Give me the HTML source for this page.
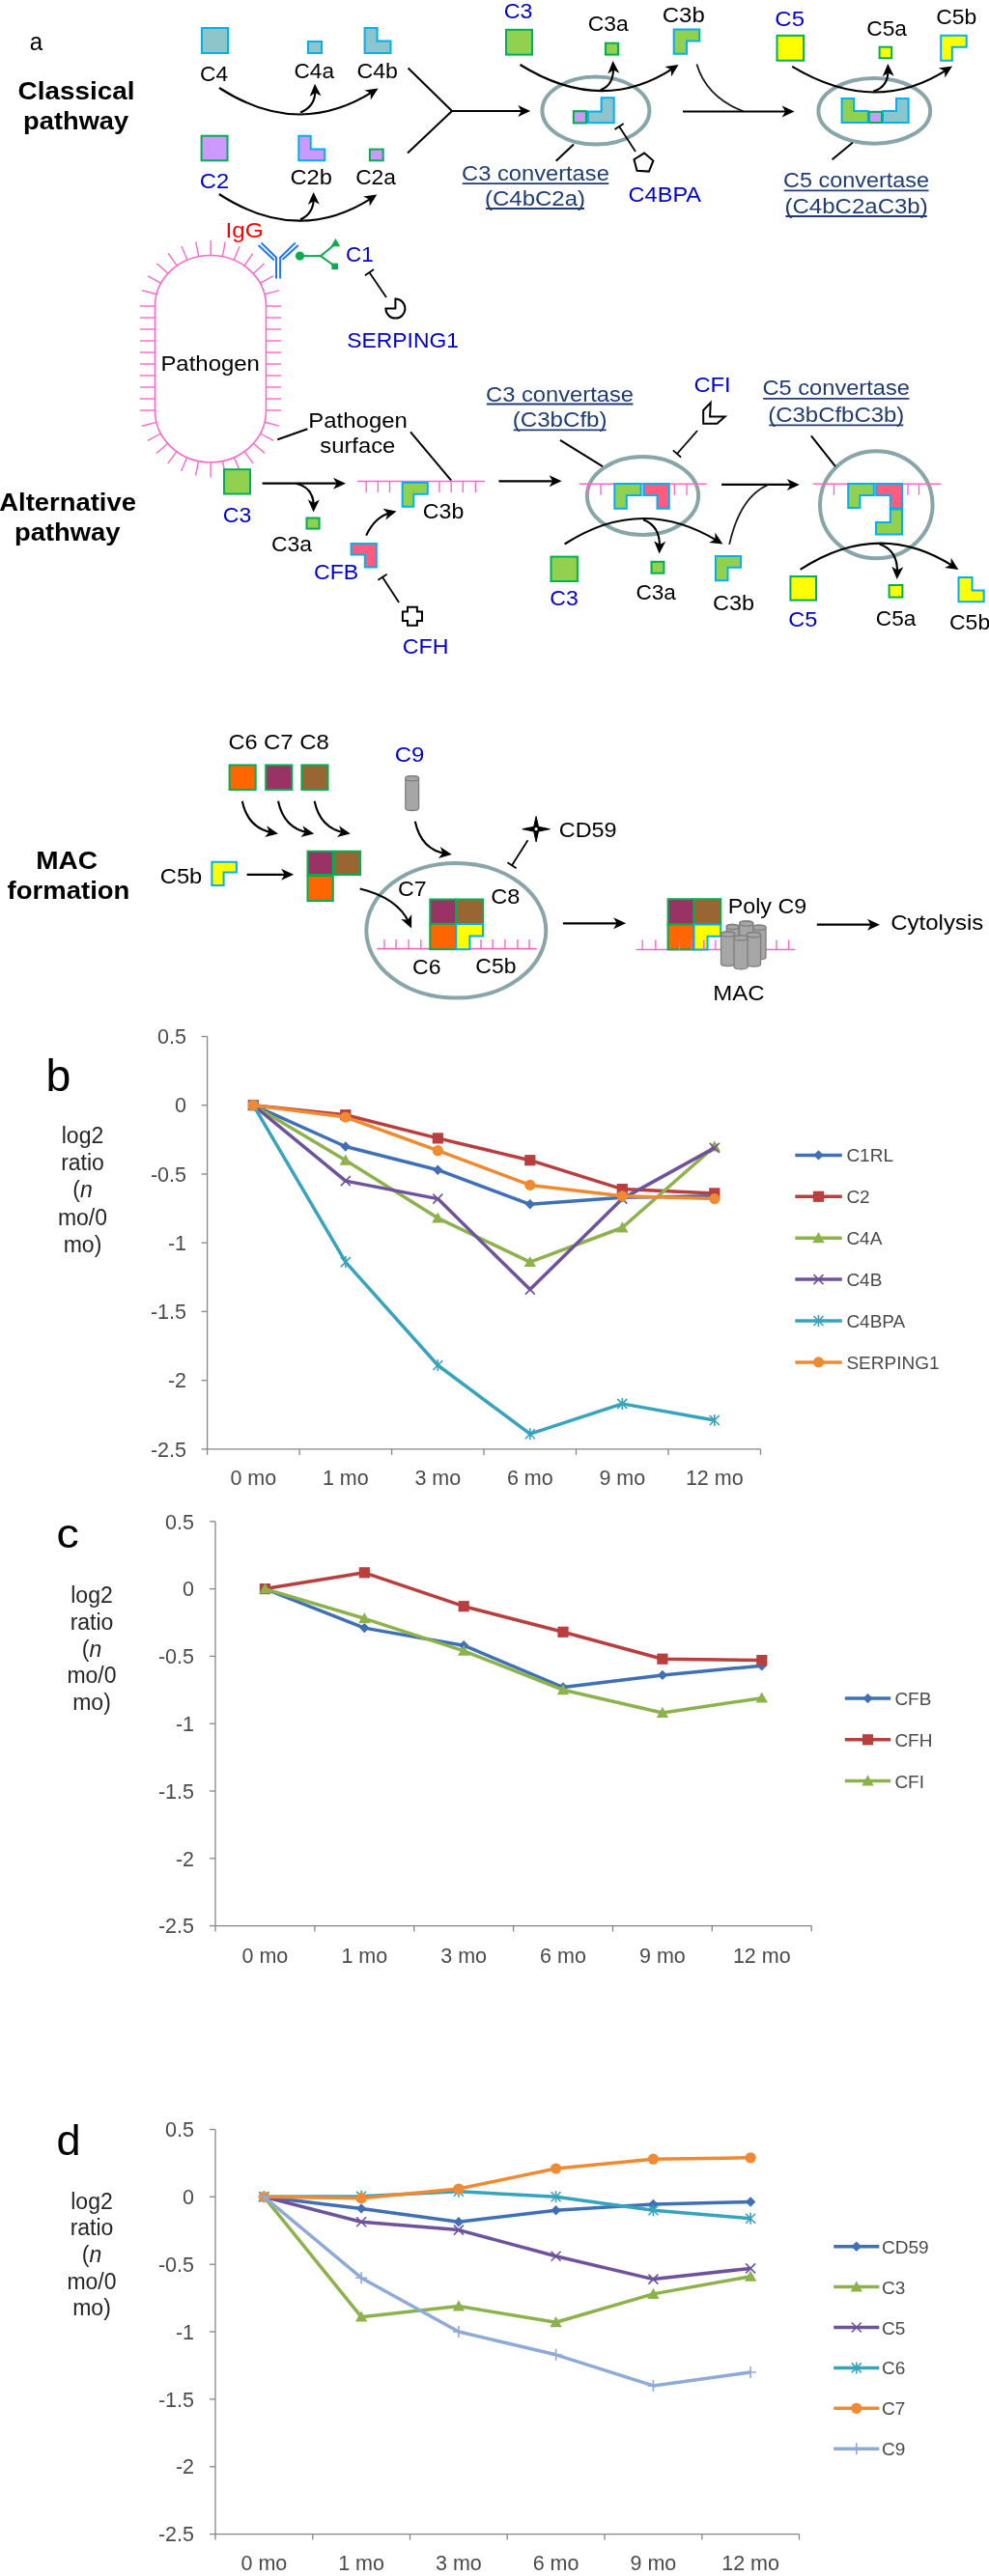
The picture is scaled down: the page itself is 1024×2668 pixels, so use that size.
<!DOCTYPE html>
<html><head><meta charset="utf-8"><style>
html,body{margin:0;padding:0;background:#fff;width:1024px;height:2668px;}
svg{display:block;font-family:"Liberation Sans", sans-serif;filter:blur(0.45px);}
</style></head><body>
<svg width="1024" height="2668" viewBox="0 0 1024 2668">
<rect width="1024" height="2668" fill="#fff"/>
<text x="30.78" y="51.5" font-size="25" fill="#000" textLength="13.39" lengthAdjust="spacingAndGlyphs">a</text>
<text x="18.59" y="103.3" font-size="25" fill="#000" font-weight="bold" textLength="120.84" lengthAdjust="spacingAndGlyphs">Classical</text>
<text x="24.13" y="134.0" font-size="25" fill="#000" font-weight="bold" textLength="109.04" lengthAdjust="spacingAndGlyphs">pathway</text>
<rect x="209.0" y="29.0" width="27.0" height="26.0" fill="#8dc5cc" stroke="#00b0f0" stroke-width="2"/>
<rect x="319.0" y="43.0" width="14.0" height="12.0" fill="#8dc5cc" stroke="#00b0f0" stroke-width="2"/>
<path d="M377.6,29.0 L390.6,29.0 L390.6,42.5 L404.5,42.5 L404.5,55.0 L377.6,55.0 Z" fill="#8dc5cc" stroke="#00b0f0" stroke-width="2" stroke-linejoin="miter"/>
<text x="207.06" y="84.0" font-size="22" fill="#000" textLength="29.08" lengthAdjust="spacingAndGlyphs">C4</text>
<text x="304.57" y="80.5" font-size="22" fill="#000" textLength="41.42" lengthAdjust="spacingAndGlyphs">C4a</text>
<text x="369.44" y="80.5" font-size="22" fill="#000" textLength="42.53" lengthAdjust="spacingAndGlyphs">C4b</text>
<path d="M227.0,91.0 Q309.0,144.0 386.5,94.7" stroke="#000" stroke-width="2.1" fill="none"/>
<path d="M391.6,91.5 L383.8,103.5 L383.7,96.5 L377.4,93.4 Z" fill="#000"/>
<path d="M311.0,116.5 Q327.0,110.0 326.3,92.7" stroke="#000" stroke-width="2.1" fill="none"/>
<path d="M326.0,86.7 L332.6,99.4 L326.4,96.1 L320.6,99.9 Z" fill="#000"/>
<rect x="208.6" y="140.7" width="26.9" height="25.6" fill="#cc99ff" stroke="#00b050" stroke-width="2"/>
<path d="M309.3,140.7 L321.7,140.7 L321.7,154.4 L336.2,154.4 L336.2,166.3 L309.3,166.3 Z" fill="#cc99ff" stroke="#00b0f0" stroke-width="2" stroke-linejoin="miter"/>
<rect x="382.9" y="154.6" width="13.8" height="11.7" fill="#cc99ff" stroke="#00b050" stroke-width="2"/>
<text x="206.81" y="195.0" font-size="22" fill="#0000cc" textLength="30.40" lengthAdjust="spacingAndGlyphs">C2</text>
<text x="300.51" y="191.0" font-size="22" fill="#000" textLength="43.48" lengthAdjust="spacingAndGlyphs">C2b</text>
<text x="368.16" y="191.0" font-size="22" fill="#000" textLength="41.83" lengthAdjust="spacingAndGlyphs">C2a</text>
<path d="M226.8,201.0 Q308.8,254.4 385.3,204.8" stroke="#000" stroke-width="2.1" fill="none"/>
<path d="M390.3,201.5 L382.7,213.6 L382.4,206.6 L376.1,203.5 Z" fill="#000"/>
<path d="M311.0,227.3 Q325.0,221.0 324.7,204.9" stroke="#000" stroke-width="2.1" fill="none"/>
<path d="M324.6,198.9 L330.8,211.8 L324.8,208.3 L318.8,212.0 Z" fill="#000"/>
<line x1="422.6" y1="70.5" x2="468.0" y2="115.0" stroke="#000" stroke-width="2"/>
<line x1="422.0" y1="158.6" x2="468.0" y2="115.0" stroke="#000" stroke-width="2"/>
<line x1="467.0" y1="115.0" x2="543.2" y2="115.0" stroke="#000" stroke-width="2.2"/>
<path d="M549.2,115.0 L536.2,121.0 L539.8,115.0 L536.2,109.0 Z" fill="#000"/>
<ellipse cx="616.9" cy="114.6" rx="55.5" ry="35.0" fill="none" stroke="#88a6a9" stroke-width="4"/>
<rect x="593.9" y="115.3" width="13.0" height="12.0" fill="#cc99ff" stroke="#00b050" stroke-width="2"/>
<path d="M622.6,101.3 L635.7,101.3 L635.7,127.3 L608.9,127.3 L608.9,115.6 L622.6,115.6 Z" fill="#8dc5cc" stroke="#00b0f0" stroke-width="2" stroke-linejoin="miter"/>
<rect x="593.9" y="115.3" width="13.0" height="12.0" fill="#cc99ff" stroke="#00b050" stroke-width="2"/>
<rect x="524.0" y="30.8" width="27.0" height="25.8" fill="#92d050" stroke="#00b050" stroke-width="2"/>
<rect x="627.0" y="44.7" width="13.0" height="11.9" fill="#92d050" stroke="#00b050" stroke-width="2"/>
<path d="M697.7,30.6 L724.2,30.6 L724.2,42.5 L711.0,42.5 L711.0,55.7 L697.7,55.7 Z" fill="#92d050" stroke="#00b0f0" stroke-width="2" stroke-linejoin="miter"/>
<text x="521.84" y="19.4" font-size="22" fill="#0000cc" textLength="29.67" lengthAdjust="spacingAndGlyphs">C3</text>
<text x="608.86" y="32.4" font-size="22" fill="#000" textLength="41.93" lengthAdjust="spacingAndGlyphs">C3a</text>
<text x="685.80" y="22.6" font-size="22" fill="#000" textLength="43.90" lengthAdjust="spacingAndGlyphs">C3b</text>
<path d="M538.5,67.0 Q623.0,119.5 697.6,70.3" stroke="#000" stroke-width="2.1" fill="none"/>
<path d="M702.6,67.0 L695.1,79.2 L694.8,72.2 L688.4,69.1 Z" fill="#000"/>
<path d="M621.7,93.2 Q636.0,88.0 634.9,69.1" stroke="#000" stroke-width="2.1" fill="none"/>
<path d="M634.6,63.1 L641.3,75.7 L635.1,72.5 L629.3,76.4 Z" fill="#000"/>
<line x1="594.0" y1="149.5" x2="575.7" y2="166.7" stroke="#000" stroke-width="2"/>
<text x="478.12" y="186.8" font-size="22" fill="#203c74" textLength="152.70" lengthAdjust="spacingAndGlyphs">C3 convertase</text>
<line x1="478.8" y1="190.1" x2="630.3" y2="190.1" stroke="#203c74" stroke-width="1.8"/>
<text x="502.10" y="212.6" font-size="22" fill="#203c74" textLength="103.84" lengthAdjust="spacingAndGlyphs">(C4bC2a)</text>
<line x1="503.1" y1="216.0" x2="605.0" y2="216.0" stroke="#203c74" stroke-width="1.8"/>
<line x1="658.0" y1="156.9" x2="641.1" y2="131.1" stroke="#000" stroke-width="1.8"/>
<line x1="636.5" y1="134.1" x2="645.7" y2="128.1" stroke="#000" stroke-width="1.8"/>
<path d="M667.1,158.6 L676.4,166.5 L671.9,177.6 L659.5,176.8 L656.5,165.2 Z" fill="#fff" stroke="#000" stroke-width="2" stroke-linejoin="miter"/>
<text x="650.62" y="208.7" font-size="22" fill="#0000cc" textLength="75.44" lengthAdjust="spacingAndGlyphs">C4BPA</text>
<path d="M721.4,66.4 Q731.5,100.5 770,115.5" stroke="#1a1a1a" stroke-width="1.8" fill="none"/>
<line x1="707.0" y1="115.5" x2="816.6" y2="115.5" stroke="#000" stroke-width="2.2"/>
<path d="M822.6,115.5 L809.6,121.5 L813.2,115.5 L809.6,109.5 Z" fill="#000"/>
<ellipse cx="905.3" cy="114.9" rx="57.9" ry="33.8" fill="none" stroke="#88a6a9" stroke-width="4"/>
<path d="M871.6,101.9 L884.2,101.9 L884.2,115.0 L898.8,115.0 L898.8,127.0 L871.6,127.0 Z" fill="#92d050" stroke="#00b0f0" stroke-width="2" stroke-linejoin="miter"/>
<path d="M928.0,101.9 L940.6,101.9 L940.6,127.0 L914.0,127.0 L914.0,115.0 L928.0,115.0 Z" fill="#8dc5cc" stroke="#00b0f0" stroke-width="2" stroke-linejoin="miter"/>
<rect x="899.8" y="115.8" width="13.2" height="11.2" fill="#cc99ff" stroke="#00b050" stroke-width="2"/>
<rect x="804.5" y="36.8" width="27.5" height="25.9" fill="#ffff00" stroke="#00b050" stroke-width="2"/>
<rect x="910.6" y="48.7" width="12.6" height="11.5" fill="#ffff00" stroke="#00b050" stroke-width="2"/>
<path d="M974.2,36.8 L1000.7,36.8 L1000.7,48.7 L985.8,48.7 L985.8,62.7 L974.2,62.7 Z" fill="#ffff00" stroke="#00b0f0" stroke-width="2" stroke-linejoin="miter"/>
<text x="802.30" y="27.1" font-size="22" fill="#0000cc" textLength="30.68" lengthAdjust="spacingAndGlyphs">C5</text>
<text x="897.26" y="36.5" font-size="22" fill="#000" textLength="41.73" lengthAdjust="spacingAndGlyphs">C5a</text>
<text x="969.25" y="25.0" font-size="22" fill="#000" textLength="42.11" lengthAdjust="spacingAndGlyphs">C5b</text>
<path d="M820.2,68.9 Q906.0,120.5 981.0,71.8" stroke="#000" stroke-width="2.1" fill="none"/>
<path d="M986.0,68.5 L978.4,80.6 L978.1,73.6 L971.8,70.6 Z" fill="#000"/>
<path d="M904.3,94.6 Q920.0,90.0 919.5,72.0" stroke="#000" stroke-width="2.1" fill="none"/>
<path d="M919.3,66.0 L925.7,78.8 L919.6,75.4 L913.7,79.2 Z" fill="#000"/>
<line x1="882.8" y1="147.8" x2="861.6" y2="165.2" stroke="#000" stroke-width="2"/>
<text x="811.03" y="194.3" font-size="22" fill="#203c74" textLength="150.98" lengthAdjust="spacingAndGlyphs">C5 convertase</text>
<line x1="811.7" y1="197.4" x2="961.5" y2="197.4" stroke="#203c74" stroke-width="1.8"/>
<text x="812.50" y="221.0" font-size="22" fill="#203c74" textLength="148.23" lengthAdjust="spacingAndGlyphs">(C4bC2aC3b)</text>
<line x1="813.5" y1="224.0" x2="959.8" y2="224.0" stroke="#203c74" stroke-width="1.8"/>
<path d="M160.5,317.0 A57.5,52.5 0 0,1 275.5,317.0 L275.5,425.0 A57.5,53.8 0 0,1 160.5,425.0 Z" stroke="#ff66cc" stroke-width="1.6" fill="none"/>
<line x1="145.0" y1="317.0" x2="160.5" y2="317.0" stroke="#ff66cc" stroke-width="1.4"/>
<line x1="275.5" y1="317.0" x2="291.0" y2="317.0" stroke="#ff66cc" stroke-width="1.4"/>
<line x1="145.0" y1="329.0" x2="160.5" y2="329.0" stroke="#ff66cc" stroke-width="1.4"/>
<line x1="275.5" y1="329.0" x2="291.0" y2="329.0" stroke="#ff66cc" stroke-width="1.4"/>
<line x1="145.0" y1="341.0" x2="160.5" y2="341.0" stroke="#ff66cc" stroke-width="1.4"/>
<line x1="275.5" y1="341.0" x2="291.0" y2="341.0" stroke="#ff66cc" stroke-width="1.4"/>
<line x1="145.0" y1="353.0" x2="160.5" y2="353.0" stroke="#ff66cc" stroke-width="1.4"/>
<line x1="275.5" y1="353.0" x2="291.0" y2="353.0" stroke="#ff66cc" stroke-width="1.4"/>
<line x1="145.0" y1="365.0" x2="160.5" y2="365.0" stroke="#ff66cc" stroke-width="1.4"/>
<line x1="275.5" y1="365.0" x2="291.0" y2="365.0" stroke="#ff66cc" stroke-width="1.4"/>
<line x1="145.0" y1="377.0" x2="160.5" y2="377.0" stroke="#ff66cc" stroke-width="1.4"/>
<line x1="275.5" y1="377.0" x2="291.0" y2="377.0" stroke="#ff66cc" stroke-width="1.4"/>
<line x1="145.0" y1="389.0" x2="160.5" y2="389.0" stroke="#ff66cc" stroke-width="1.4"/>
<line x1="275.5" y1="389.0" x2="291.0" y2="389.0" stroke="#ff66cc" stroke-width="1.4"/>
<line x1="145.0" y1="401.0" x2="160.5" y2="401.0" stroke="#ff66cc" stroke-width="1.4"/>
<line x1="275.5" y1="401.0" x2="291.0" y2="401.0" stroke="#ff66cc" stroke-width="1.4"/>
<line x1="145.0" y1="413.0" x2="160.5" y2="413.0" stroke="#ff66cc" stroke-width="1.4"/>
<line x1="275.5" y1="413.0" x2="291.0" y2="413.0" stroke="#ff66cc" stroke-width="1.4"/>
<line x1="145.0" y1="425.0" x2="160.5" y2="425.0" stroke="#ff66cc" stroke-width="1.4"/>
<line x1="275.5" y1="425.0" x2="291.0" y2="425.0" stroke="#ff66cc" stroke-width="1.4"/>
<line x1="162.1" y1="304.7" x2="147.1" y2="300.8" stroke="#ff66cc" stroke-width="1.4"/>
<line x1="166.7" y1="293.3" x2="153.1" y2="285.8" stroke="#ff66cc" stroke-width="1.4"/>
<line x1="173.9" y1="283.3" x2="162.5" y2="272.9" stroke="#ff66cc" stroke-width="1.4"/>
<line x1="183.1" y1="275.2" x2="174.3" y2="262.5" stroke="#ff66cc" stroke-width="1.4"/>
<line x1="194.0" y1="269.3" x2="187.9" y2="255.0" stroke="#ff66cc" stroke-width="1.4"/>
<line x1="205.8" y1="265.7" x2="202.7" y2="250.5" stroke="#ff66cc" stroke-width="1.4"/>
<line x1="218.1" y1="264.5" x2="218.1" y2="249.0" stroke="#ff66cc" stroke-width="1.4"/>
<line x1="230.3" y1="265.7" x2="233.3" y2="250.5" stroke="#ff66cc" stroke-width="1.4"/>
<line x1="242.1" y1="269.3" x2="248.1" y2="255.1" stroke="#ff66cc" stroke-width="1.4"/>
<line x1="252.9" y1="275.3" x2="261.8" y2="262.6" stroke="#ff66cc" stroke-width="1.4"/>
<line x1="262.2" y1="283.4" x2="273.6" y2="272.9" stroke="#ff66cc" stroke-width="1.4"/>
<line x1="269.3" y1="293.4" x2="282.9" y2="285.9" stroke="#ff66cc" stroke-width="1.4"/>
<line x1="273.9" y1="304.8" x2="288.9" y2="300.9" stroke="#ff66cc" stroke-width="1.4"/>
<line x1="162.0" y1="437.4" x2="147.0" y2="441.2" stroke="#ff66cc" stroke-width="1.4"/>
<line x1="166.6" y1="449.0" x2="152.9" y2="456.3" stroke="#ff66cc" stroke-width="1.4"/>
<line x1="173.7" y1="459.2" x2="162.0" y2="469.5" stroke="#ff66cc" stroke-width="1.4"/>
<line x1="182.9" y1="467.6" x2="173.8" y2="480.2" stroke="#ff66cc" stroke-width="1.4"/>
<line x1="193.7" y1="473.8" x2="187.5" y2="488.0" stroke="#ff66cc" stroke-width="1.4"/>
<line x1="205.6" y1="477.5" x2="202.5" y2="492.7" stroke="#ff66cc" stroke-width="1.4"/>
<line x1="218.1" y1="478.8" x2="218.1" y2="494.3" stroke="#ff66cc" stroke-width="1.4"/>
<line x1="230.4" y1="477.5" x2="233.6" y2="492.7" stroke="#ff66cc" stroke-width="1.4"/>
<line x1="242.3" y1="473.8" x2="248.5" y2="488.0" stroke="#ff66cc" stroke-width="1.4"/>
<line x1="253.1" y1="467.6" x2="262.2" y2="480.1" stroke="#ff66cc" stroke-width="1.4"/>
<line x1="262.4" y1="459.2" x2="274.0" y2="469.4" stroke="#ff66cc" stroke-width="1.4"/>
<line x1="269.5" y1="449.0" x2="283.2" y2="456.3" stroke="#ff66cc" stroke-width="1.4"/>
<line x1="274.0" y1="437.3" x2="289.0" y2="441.1" stroke="#ff66cc" stroke-width="1.4"/>
<text x="166.42" y="384.0" font-size="22" fill="#000" textLength="102.52" lengthAdjust="spacingAndGlyphs">Pathogen</text>
<path d="M271.1,252.1 L286.0,266.7 L286.0,287.7" stroke="#1f77f2" stroke-width="2" fill="none" stroke-linecap="round"/>
<path d="M305.2,252.1 L290.1,266.7 L290.1,287.7" stroke="#1f77f2" stroke-width="2" fill="none" stroke-linecap="round"/>
<path d="M268.1,254.6 L283.2,268.8" stroke="#1f77f2" stroke-width="2" fill="none" stroke-linecap="round"/>
<path d="M308.3,254.6 L293.1,268.3" stroke="#1f77f2" stroke-width="2" fill="none" stroke-linecap="round"/>
<text x="233.55" y="246.0" font-size="22" fill="#ff0000" textLength="39.27" lengthAdjust="spacingAndGlyphs">IgG</text>
<circle cx="310.5" cy="265.1" r="4.6" fill="#10a850"/>
<line x1="310.5" y1="265.1" x2="332.0" y2="265.1" stroke="#10a850" stroke-width="2"/>
<line x1="332.0" y1="265.1" x2="345.0" y2="254.5" stroke="#10a850" stroke-width="2"/>
<line x1="332.0" y1="265.1" x2="345.0" y2="274.5" stroke="#10a850" stroke-width="2"/>
<path d="M347.4,247 L352.2,255.3 L342.6,255.3 Z" fill="#10a850"/>
<rect x="343.4" y="272.6" width="6.6" height="6.6" fill="#10a850"/>
<text x="358.08" y="271.2" font-size="22" fill="#0000cc" textLength="28.71" lengthAdjust="spacingAndGlyphs">C1</text>
<line x1="400.0" y1="308.0" x2="382.5" y2="282.2" stroke="#000" stroke-width="1.8"/>
<line x1="377.9" y1="285.3" x2="387.1" y2="279.1" stroke="#000" stroke-width="1.8"/>
<path d="M409.4,319.6 L409.4,309.6 A10,10 0 1,1 399.4,319.6 Z" stroke="#000" stroke-width="2" fill="#fff"/>
<text x="359.27" y="360.0" font-size="22" fill="#0000cc" textLength="115.67" lengthAdjust="spacingAndGlyphs">SERPING1</text>
<text x="319.32" y="443.0" font-size="22" fill="#000" textLength="102.52" lengthAdjust="spacingAndGlyphs">Pathogen</text>
<text x="331.24" y="469.2" font-size="22" fill="#000" textLength="78.11" lengthAdjust="spacingAndGlyphs">surface</text>
<line x1="287.3" y1="455.3" x2="318.4" y2="444.3" stroke="#000" stroke-width="2"/>
<line x1="425.0" y1="447.3" x2="467.2" y2="497.6" stroke="#000" stroke-width="2"/>
<text x="-0.68" y="528.6" font-size="25" fill="#000" font-weight="bold" textLength="141.61" lengthAdjust="spacingAndGlyphs">Alternative</text>
<text x="14.92" y="560.0" font-size="25" fill="#000" font-weight="bold" textLength="109.65" lengthAdjust="spacingAndGlyphs">pathway</text>
<rect x="232.0" y="486.2" width="27.0" height="25.3" fill="#92d050" stroke="#00b050" stroke-width="2"/>
<text x="230.85" y="541.3" font-size="22" fill="#0000cc" textLength="29.45" lengthAdjust="spacingAndGlyphs">C3</text>
<line x1="271.6" y1="500.7" x2="352.0" y2="500.7" stroke="#000" stroke-width="2.2"/>
<path d="M358.0,500.7 L345.0,506.7 L348.6,500.7 L345.0,494.7 Z" fill="#000"/>
<path d="M306.4,500.7 Q325.0,505.0 324.7,524.4" stroke="#000" stroke-width="2.1" fill="none"/>
<path d="M324.6,530.4 L318.8,517.3 L324.7,521.0 L330.8,517.5 Z" fill="#000"/>
<rect x="317.5" y="536.5" width="13.1" height="11.1" fill="#92d050" stroke="#00b050" stroke-width="2"/>
<text x="281.05" y="571.0" font-size="22" fill="#000" textLength="42.03" lengthAdjust="spacingAndGlyphs">C3a</text>
<line x1="370.0" y1="498.5" x2="502.0" y2="498.5" stroke="#ff66cc" stroke-width="1.6"/>
<line x1="379.2" y1="498.5" x2="379.2" y2="510.0" stroke="#ff66cc" stroke-width="1.4"/>
<line x1="391.4" y1="498.5" x2="391.4" y2="510.0" stroke="#ff66cc" stroke-width="1.4"/>
<line x1="403.5" y1="498.5" x2="403.5" y2="510.0" stroke="#ff66cc" stroke-width="1.4"/>
<line x1="455.0" y1="498.5" x2="455.0" y2="510.0" stroke="#ff66cc" stroke-width="1.4"/>
<line x1="467.2" y1="498.5" x2="467.2" y2="510.0" stroke="#ff66cc" stroke-width="1.4"/>
<line x1="479.3" y1="498.5" x2="479.3" y2="510.0" stroke="#ff66cc" stroke-width="1.4"/>
<line x1="492.4" y1="498.5" x2="492.4" y2="510.0" stroke="#ff66cc" stroke-width="1.4"/>
<path d="M416.6,500.0 L442.8,500.0 L442.8,511.8 L428.3,511.8 L428.3,524.8 L416.6,524.8 Z" fill="#92d050" stroke="#00b0f0" stroke-width="2" stroke-linejoin="miter"/>
<text x="437.84" y="536.5" font-size="22" fill="#000" textLength="42.43" lengthAdjust="spacingAndGlyphs">C3b</text>
<path d="M363.6,563.0 L389.8,563.0 L389.8,587.6 L377.8,587.6 L377.8,574.6 L363.6,574.6 Z" fill="#ff5b7e" stroke="#00b0f0" stroke-width="2" stroke-linejoin="miter"/>
<text x="325.04" y="599.8" font-size="22" fill="#0000cc" textLength="46.27" lengthAdjust="spacingAndGlyphs">CFB</text>
<path d="M379.2,554.6 Q388.0,535.0 404.7,530.9" stroke="#000" stroke-width="2.1" fill="none"/>
<path d="M410.5,529.5 L399.3,538.4 L401.4,531.7 L396.4,526.8 Z" fill="#000"/>
<line x1="413.1" y1="624.0" x2="396.0" y2="597.7" stroke="#000" stroke-width="1.8"/>
<line x1="391.4" y1="600.7" x2="400.6" y2="594.7" stroke="#000" stroke-width="1.8"/>
<path d="M422.0,628.7 L431.9,628.7 L431.9,633.4 L437.0,633.4 L437.0,643.1 L431.9,643.1 L431.9,647.7 L422.0,647.7 L422.0,643.1 L416.9,643.1 L416.9,633.4 L422.0,633.4 Z" fill="#fff" stroke="#000" stroke-width="2" stroke-linejoin="miter"/>
<text x="416.84" y="677.2" font-size="22" fill="#0000cc" textLength="47.68" lengthAdjust="spacingAndGlyphs">CFH</text>
<line x1="516.4" y1="498.3" x2="575.6" y2="498.3" stroke="#000" stroke-width="2.2"/>
<path d="M581.6,498.3 L568.6,504.3 L572.2,498.3 L568.6,492.3 Z" fill="#000"/>
<ellipse cx="665.5" cy="513.5" rx="57.6" ry="40.5" fill="none" stroke="#88a6a9" stroke-width="4"/>
<line x1="599.8" y1="501.3" x2="731.7" y2="501.3" stroke="#ff66cc" stroke-width="1.6"/>
<line x1="609.0" y1="501.3" x2="609.0" y2="512.8" stroke="#ff66cc" stroke-width="1.4"/>
<line x1="622.0" y1="501.3" x2="622.0" y2="512.8" stroke="#ff66cc" stroke-width="1.4"/>
<line x1="698.4" y1="501.3" x2="698.4" y2="512.8" stroke="#ff66cc" stroke-width="1.4"/>
<line x1="711.1" y1="501.3" x2="711.1" y2="512.8" stroke="#ff66cc" stroke-width="1.4"/>
<path d="M636.3,500.9 L663.6,500.9 L663.6,513.0 L648.8,513.0 L648.8,526.7 L636.3,526.7 Z" fill="#92d050" stroke="#00b0f0" stroke-width="2" stroke-linejoin="miter"/>
<path d="M666.4,500.9 L692.8,500.9 L692.8,526.7 L680.5,526.7 L680.5,513.0 L666.4,513.0 Z" fill="#ff5b7e" stroke="#00b0f0" stroke-width="2" stroke-linejoin="miter"/>
<text x="503.11" y="415.6" font-size="22" fill="#203c74" textLength="152.90" lengthAdjust="spacingAndGlyphs">C3 convertase</text>
<line x1="503.8" y1="418.5" x2="655.5" y2="418.5" stroke="#203c74" stroke-width="1.8"/>
<text x="530.69" y="442.1" font-size="22" fill="#203c74" textLength="97.84" lengthAdjust="spacingAndGlyphs">(C3bCfb)</text>
<line x1="531.7" y1="445.3" x2="627.6" y2="445.3" stroke="#203c74" stroke-width="1.8"/>
<line x1="580.0" y1="455.8" x2="624.0" y2="483.1" stroke="#000" stroke-width="2"/>
<text x="718.41" y="405.8" font-size="22" fill="#0000cc" textLength="38.31" lengthAdjust="spacingAndGlyphs">CFI</text>
<path d="M735.7,417.1 L728.2,425.0 L728.2,438.7 L742.4,438.7 L750.6,431.4 L735.1,431.4 Z" fill="#fff" stroke="#000" stroke-width="2" stroke-linejoin="miter"/>
<line x1="722.1" y1="446.0" x2="701.0" y2="470.0" stroke="#000" stroke-width="1.8"/>
<line x1="705.1" y1="473.6" x2="696.9" y2="466.4" stroke="#000" stroke-width="1.8"/>
<rect x="570.5" y="576.6" width="27.4" height="25.4" fill="#92d050" stroke="#00b050" stroke-width="2"/>
<text x="569.25" y="627.2" font-size="22" fill="#0000cc" textLength="29.45" lengthAdjust="spacingAndGlyphs">C3</text>
<rect x="674.5" y="581.8" width="12.9" height="11.9" fill="#92d050" stroke="#00b050" stroke-width="2"/>
<text x="658.47" y="621.1" font-size="22" fill="#000" textLength="41.42" lengthAdjust="spacingAndGlyphs">C3a</text>
<path d="M741.0,576.0 L767.1,576.0 L767.1,587.7 L753.5,587.7 L753.5,601.3 L741.0,601.3 Z" fill="#92d050" stroke="#00b0f0" stroke-width="2" stroke-linejoin="miter"/>
<text x="738.13" y="631.5" font-size="22" fill="#000" textLength="42.95" lengthAdjust="spacingAndGlyphs">C3b</text>
<path d="M584.6,563.5 Q664.0,512.0 743.3,560.4" stroke="#000" stroke-width="2.1" fill="none"/>
<path d="M748.4,563.5 L734.2,561.9 L740.4,558.6 L740.4,551.6 Z" fill="#000"/>
<path d="M666.0,538.3 Q684.0,545.0 682.9,567.5" stroke="#000" stroke-width="2.1" fill="none"/>
<path d="M682.6,573.5 L677.2,560.2 L683.1,564.1 L689.2,560.8 Z" fill="#000"/>
<line x1="747.1" y1="501.9" x2="821.8" y2="501.9" stroke="#000" stroke-width="2.2"/>
<path d="M827.8,501.9 L814.8,507.9 L818.4,501.9 L814.8,495.9 Z" fill="#000"/>
<path d="M755.2,563.9 Q766,515 795,502.2" stroke="#1a1a1a" stroke-width="1.8" fill="none"/>
<ellipse cx="907.3" cy="522.8" rx="58.3" ry="55.5" fill="none" stroke="#88a6a9" stroke-width="4"/>
<line x1="841.7" y1="501.3" x2="974.2" y2="501.3" stroke="#ff66cc" stroke-width="1.6"/>
<line x1="863.5" y1="501.3" x2="863.5" y2="512.8" stroke="#ff66cc" stroke-width="1.4"/>
<line x1="940.0" y1="501.3" x2="940.0" y2="512.8" stroke="#ff66cc" stroke-width="1.4"/>
<line x1="951.5" y1="501.3" x2="951.5" y2="512.8" stroke="#ff66cc" stroke-width="1.4"/>
<path d="M878.2,500.9 L904.8,500.9 L904.8,513.1 L890.4,513.1 L890.4,526.1 L878.2,526.1 Z" fill="#92d050" stroke="#00b0f0" stroke-width="2" stroke-linejoin="miter"/>
<path d="M907.2,500.9 L934.0,500.9 L934.0,526.4 L921.8,526.4 L921.8,513.1 L907.2,513.1 Z" fill="#ff5b7e" stroke="#00b0f0" stroke-width="2" stroke-linejoin="miter"/>
<path d="M921.8,527.6 L934.0,527.6 L934.0,553.4 L907.0,553.4 L907.0,541.0 L921.8,541.0 Z" fill="#92d050" stroke="#00b0f0" stroke-width="2" stroke-linejoin="miter"/>
<text x="789.52" y="409.2" font-size="22" fill="#203c74" textLength="152.40" lengthAdjust="spacingAndGlyphs">C5 convertase</text>
<line x1="790.2" y1="412.8" x2="941.4" y2="412.8" stroke="#203c74" stroke-width="1.8"/>
<text x="795.30" y="437.2" font-size="22" fill="#203c74" textLength="140.96" lengthAdjust="spacingAndGlyphs">(C3bCfbC3b)</text>
<line x1="796.3" y1="440.4" x2="935.3" y2="440.4" stroke="#203c74" stroke-width="1.8"/>
<line x1="839.9" y1="451.3" x2="865.0" y2="483.1" stroke="#000" stroke-width="2"/>
<rect x="818.4" y="597.0" width="26.6" height="24.6" fill="#ffff00" stroke="#00b050" stroke-width="2"/>
<text x="816.23" y="649.3" font-size="22" fill="#0000cc" textLength="30.03" lengthAdjust="spacingAndGlyphs">C5</text>
<rect x="920.6" y="606.0" width="13.8" height="12.6" fill="#ffff00" stroke="#00b050" stroke-width="2"/>
<text x="906.87" y="648.4" font-size="22" fill="#000" textLength="41.52" lengthAdjust="spacingAndGlyphs">C5a</text>
<path d="M992.5,597.9 L1006.6,597.9 L1006.6,611.5 L1018.7,611.5 L1018.7,623.2 L992.5,623.2 Z" fill="#ffff00" stroke="#00b0f0" stroke-width="2" stroke-linejoin="miter"/>
<text x="983.05" y="651.5" font-size="22" fill="#000" textLength="42.11" lengthAdjust="spacingAndGlyphs">C5b</text>
<path d="M828.6,589.9 Q910.0,537.0 987.4,586.7" stroke="#000" stroke-width="2.1" fill="none"/>
<path d="M992.4,589.9 L978.2,587.9 L984.5,584.8 L984.7,577.8 Z" fill="#000"/>
<path d="M910.5,563.5 Q930.0,570.0 929.0,593.9" stroke="#000" stroke-width="2.1" fill="none"/>
<path d="M928.7,599.9 L923.3,586.7 L929.1,590.5 L935.3,587.2 Z" fill="#000"/>
<text x="37.31" y="899.8" font-size="25" fill="#000" font-weight="bold" textLength="63.76" lengthAdjust="spacingAndGlyphs">MAC</text>
<text x="7.62" y="930.9" font-size="25" fill="#000" font-weight="bold" textLength="126.76" lengthAdjust="spacingAndGlyphs">formation</text>
<text x="236.62" y="776.4" font-size="22" fill="#000" textLength="30.10" lengthAdjust="spacingAndGlyphs">C6</text>
<text x="273.00" y="776.4" font-size="22" fill="#000" textLength="30.72" lengthAdjust="spacingAndGlyphs">C7</text>
<text x="310.21" y="776.4" font-size="22" fill="#000" textLength="30.53" lengthAdjust="spacingAndGlyphs">C8</text>
<rect x="237.6" y="792.4" width="27.1" height="25.5" fill="#ff6600" stroke="#00b050" stroke-width="2"/>
<rect x="275.2" y="792.4" width="27.1" height="25.5" fill="#993366" stroke="#00b050" stroke-width="2"/>
<rect x="312.4" y="792.4" width="27.1" height="25.5" fill="#996633" stroke="#00b050" stroke-width="2"/>
<path d="M250.8,829.8 Q256.8,858.0 282.1,862.4" stroke="#000" stroke-width="2.1" fill="none"/>
<path d="M288.0,863.4 L274.2,867.1 L278.7,861.8 L276.2,855.3 Z" fill="#000"/>
<path d="M288.0,829.8 Q294.0,858.0 319.3,862.4" stroke="#000" stroke-width="2.1" fill="none"/>
<path d="M325.2,863.4 L311.4,867.1 L315.9,861.8 L313.4,855.3 Z" fill="#000"/>
<path d="M325.6,829.8 Q331.6,858.0 356.9,862.4" stroke="#000" stroke-width="2.1" fill="none"/>
<path d="M362.8,863.4 L349.0,867.1 L353.5,861.8 L351.0,855.3 Z" fill="#000"/>
<text x="165.81" y="915.1" font-size="22" fill="#000" textLength="43.48" lengthAdjust="spacingAndGlyphs">C5b</text>
<path d="M219.4,892.7 L244.9,892.7 L244.9,903.6 L231.6,903.6 L231.6,917.0 L219.4,917.0 Z" fill="#ffff00" stroke="#00b0f0" stroke-width="2" stroke-linejoin="miter"/>
<line x1="255.6" y1="905.8" x2="298.1" y2="905.8" stroke="#000" stroke-width="2.2"/>
<path d="M304.1,905.8 L291.1,911.8 L294.7,905.8 L291.1,899.8 Z" fill="#000"/>
<rect x="318.5" y="881.7" width="26.3" height="24.3" fill="#993366" stroke="#00b050" stroke-width="2"/>
<rect x="345.8" y="881.7" width="27.3" height="24.3" fill="#996633" stroke="#00b050" stroke-width="2"/>
<rect x="318.5" y="907.0" width="26.3" height="26.1" fill="#ff6600" stroke="#00b050" stroke-width="2"/>
<text x="408.80" y="788.5" font-size="22" fill="#0000cc" textLength="30.59" lengthAdjust="spacingAndGlyphs">C9</text>
<path d="M419.8,806.3 L419.8,836.9 A6.9,2.6 0 0,0 433.6,836.9 L433.6,806.3 A6.9,2.6 0 0,0 419.8,806.3 Z" fill="#a6a6a6" stroke="#7f7f7f" stroke-width="1.3"/>
<ellipse cx="426.7" cy="806.3" rx="6.9" ry="2.6" fill="#a6a6a6" stroke="#7f7f7f" stroke-width="1.3"/>
<path d="M429.8,850.7 Q436.0,880.0 461.8,884.1" stroke="#000" stroke-width="2.1" fill="none"/>
<path d="M467.7,885.0 L453.9,888.9 L458.4,883.5 L455.8,877.0 Z" fill="#000"/>
<ellipse cx="472.3" cy="963.8" rx="93.0" ry="69.8" fill="none" stroke="#88a6a9" stroke-width="4"/>
<line x1="390.3" y1="982.6" x2="555.6" y2="982.6" stroke="#ff66cc" stroke-width="1.6"/>
<line x1="397.9" y1="982.6" x2="397.9" y2="973.0" stroke="#ff66cc" stroke-width="1.4"/>
<line x1="410.0" y1="982.6" x2="410.0" y2="973.0" stroke="#ff66cc" stroke-width="1.4"/>
<line x1="423.1" y1="982.6" x2="423.1" y2="973.0" stroke="#ff66cc" stroke-width="1.4"/>
<line x1="435.8" y1="982.6" x2="435.8" y2="973.0" stroke="#ff66cc" stroke-width="1.4"/>
<line x1="498.0" y1="982.6" x2="498.0" y2="973.0" stroke="#ff66cc" stroke-width="1.4"/>
<line x1="510.1" y1="982.6" x2="510.1" y2="973.0" stroke="#ff66cc" stroke-width="1.4"/>
<line x1="522.9" y1="982.6" x2="522.9" y2="973.0" stroke="#ff66cc" stroke-width="1.4"/>
<line x1="535.9" y1="982.6" x2="535.9" y2="973.0" stroke="#ff66cc" stroke-width="1.4"/>
<line x1="548.0" y1="982.6" x2="548.0" y2="973.0" stroke="#ff66cc" stroke-width="1.4"/>
<rect x="445.3" y="931.5" width="26.9" height="25.4" fill="#993366" stroke="#00b050" stroke-width="2"/>
<rect x="472.2" y="931.5" width="27.8" height="25.4" fill="#996633" stroke="#00b050" stroke-width="2"/>
<rect x="445.3" y="956.9" width="26.9" height="26.3" fill="#ff6600" stroke="#00b050" stroke-width="2"/>
<path d="M472.2,956.9 L500.0,956.9 L500.0,969.5 L486.4,969.5 L486.4,983.2 L472.2,983.2 Z" fill="#ffff00" stroke="#00b0f0" stroke-width="2" stroke-linejoin="miter"/>
<text x="411.94" y="928.0" font-size="22" fill="#000" textLength="29.64" lengthAdjust="spacingAndGlyphs">C7</text>
<text x="508.32" y="935.6" font-size="22" fill="#000" textLength="30.10" lengthAdjust="spacingAndGlyphs">C8</text>
<text x="427.05" y="1009.3" font-size="22" fill="#000" textLength="29.45" lengthAdjust="spacingAndGlyphs">C6</text>
<text x="492.35" y="1008.4" font-size="22" fill="#000" textLength="42.11" lengthAdjust="spacingAndGlyphs">C5b</text>
<path d="M372.7,920.5 Q412.0,930.0 423.6,955.9" stroke="#000" stroke-width="2.1" fill="none"/>
<path d="M426.1,961.4 L415.3,952.0 L422.2,952.8 L426.2,947.1 Z" fill="#000"/>
<path d="M555.1,845.5 L557.5,856.3 L569.3,858.7 L557.5,861.1 L555.1,871.9 L552.7,861.1 L540.9,858.7 L552.7,856.3 Z" fill="#000" stroke="#000" stroke-width="1.0" stroke-linejoin="miter"/>
<circle cx="555.1" cy="858.7" r="1.6" fill="#fff"/>
<text x="578.73" y="866.5" font-size="22" fill="#000" textLength="59.86" lengthAdjust="spacingAndGlyphs">CD59</text>
<line x1="546.5" y1="870.3" x2="530.0" y2="896.2" stroke="#000" stroke-width="1.8"/>
<line x1="534.6" y1="899.2" x2="525.4" y2="893.2" stroke="#000" stroke-width="1.8"/>
<line x1="582.9" y1="956.3" x2="642.1" y2="956.3" stroke="#000" stroke-width="2.2"/>
<path d="M648.1,956.3 L635.1,962.3 L638.7,956.3 L635.1,950.3 Z" fill="#000"/>
<line x1="658.6" y1="983.5" x2="823.3" y2="983.5" stroke="#ff66cc" stroke-width="1.6"/>
<line x1="665.2" y1="983.5" x2="665.2" y2="973.5" stroke="#ff66cc" stroke-width="1.4"/>
<line x1="678.8" y1="983.5" x2="678.8" y2="973.5" stroke="#ff66cc" stroke-width="1.4"/>
<line x1="803.9" y1="983.5" x2="803.9" y2="973.5" stroke="#ff66cc" stroke-width="1.4"/>
<line x1="816.6" y1="983.5" x2="816.6" y2="973.5" stroke="#ff66cc" stroke-width="1.4"/>
<rect x="691.6" y="931.2" width="26.9" height="26.3" fill="#993366" stroke="#00b050" stroke-width="2"/>
<rect x="718.5" y="931.2" width="27.7" height="26.3" fill="#996633" stroke="#00b050" stroke-width="2"/>
<rect x="691.6" y="957.5" width="26.9" height="25.9" fill="#ff6600" stroke="#00b050" stroke-width="2"/>
<path d="M718.5,957.5 L746.2,957.5 L746.2,969.7 L732.5,969.7 L732.5,983.4 L718.5,983.4 Z" fill="#ffff00" stroke="#00b0f0" stroke-width="2" stroke-linejoin="miter"/>
<line x1="703.4" y1="983.5" x2="703.4" y2="973.5" stroke="#ff66cc" stroke-width="1.4"/>
<line x1="716.0" y1="983.5" x2="716.0" y2="973.5" stroke="#ff66cc" stroke-width="1.4"/>
<line x1="728.8" y1="983.5" x2="728.8" y2="973.5" stroke="#ff66cc" stroke-width="1.4"/>
<line x1="740.9" y1="983.5" x2="740.9" y2="973.5" stroke="#ff66cc" stroke-width="1.4"/>
<path d="M752.2,960.1 L752.2,990.4 A6.3,2.6 0 0,0 764.9,990.4 L764.9,960.1 A6.3,2.6 0 0,0 752.2,960.1 Z" fill="#a6a6a6" stroke="#7f7f7f" stroke-width="1.3"/>
<ellipse cx="758.5" cy="960.1" rx="6.3" ry="2.6" fill="#a6a6a6" stroke="#7f7f7f" stroke-width="1.3"/>
<path d="M779.1,960.8 L779.1,991.4 A6.9,2.6 0 0,0 793.0,991.4 L793.0,960.8 A6.9,2.6 0 0,0 779.1,960.8 Z" fill="#a6a6a6" stroke="#7f7f7f" stroke-width="1.3"/>
<ellipse cx="786.0" cy="960.8" rx="6.9" ry="2.6" fill="#a6a6a6" stroke="#7f7f7f" stroke-width="1.3"/>
<path d="M765.6,956.6 L765.6,987.4 A7.1,2.6 0 0,0 779.8,987.4 L779.8,956.6 A7.1,2.6 0 0,0 765.6,956.6 Z" fill="#a6a6a6" stroke="#7f7f7f" stroke-width="1.3"/>
<ellipse cx="772.7" cy="956.6" rx="7.1" ry="2.6" fill="#a6a6a6" stroke="#7f7f7f" stroke-width="1.3"/>
<path d="M746.5,967.6 L746.5,998.1 A7.1,2.6 0 0,0 760.7,998.1 L760.7,967.6 A7.1,2.6 0 0,0 746.5,967.6 Z" fill="#a6a6a6" stroke="#7f7f7f" stroke-width="1.3"/>
<ellipse cx="753.6" cy="967.6" rx="7.1" ry="2.6" fill="#a6a6a6" stroke="#7f7f7f" stroke-width="1.3"/>
<path d="M773.4,968.2 L773.4,998.4 A7.1,2.6 0 0,0 787.6,998.4 L787.6,968.2 A7.1,2.6 0 0,0 773.4,968.2 Z" fill="#a6a6a6" stroke="#7f7f7f" stroke-width="1.3"/>
<ellipse cx="780.5" cy="968.2" rx="7.1" ry="2.6" fill="#a6a6a6" stroke="#7f7f7f" stroke-width="1.3"/>
<path d="M760.0,971.4 L760.0,1001.6 A7.1,2.6 0 0,0 774.1,1001.6 L774.1,971.4 A7.1,2.6 0 0,0 760.0,971.4 Z" fill="#a6a6a6" stroke="#7f7f7f" stroke-width="1.3"/>
<ellipse cx="767.0" cy="971.4" rx="7.1" ry="2.6" fill="#a6a6a6" stroke="#7f7f7f" stroke-width="1.3"/>
<text x="753.78" y="946.0" font-size="22" fill="#000" textLength="81.40" lengthAdjust="spacingAndGlyphs">Poly C9</text>
<text x="738.22" y="1036.1" font-size="22" fill="#000" textLength="53.27" lengthAdjust="spacingAndGlyphs">MAC</text>
<line x1="845.8" y1="957.7" x2="905.0" y2="957.7" stroke="#000" stroke-width="2.2"/>
<path d="M911.0,957.7 L898.0,963.7 L901.6,957.7 L898.0,951.7 Z" fill="#000"/>
<text x="922.20" y="962.6" font-size="22" fill="#000" textLength="96.05" lengthAdjust="spacingAndGlyphs">Cytolysis</text>
<text x="47.38" y="1130.2" font-size="47" fill="#000" textLength="25.83" lengthAdjust="spacingAndGlyphs">b</text>
<line x1="214.6" y1="1073.5" x2="214.6" y2="1500.9" stroke="#868686" stroke-width="1.3"/>
<line x1="214.6" y1="1500.9" x2="787.5" y2="1500.9" stroke="#868686" stroke-width="1.3"/>
<line x1="208.6" y1="1073.5" x2="214.6" y2="1073.5" stroke="#868686" stroke-width="1.3"/>
<text x="193.0" y="1081.2" font-size="21.5" fill="#4a4a4a" text-anchor="end">0.5</text>
<line x1="208.6" y1="1144.7" x2="214.6" y2="1144.7" stroke="#868686" stroke-width="1.3"/>
<text x="193.0" y="1152.4" font-size="21.5" fill="#4a4a4a" text-anchor="end">0</text>
<line x1="208.6" y1="1216.0" x2="214.6" y2="1216.0" stroke="#868686" stroke-width="1.3"/>
<text x="193.0" y="1223.7" font-size="21.5" fill="#4a4a4a" text-anchor="end">-0.5</text>
<line x1="208.6" y1="1287.2" x2="214.6" y2="1287.2" stroke="#868686" stroke-width="1.3"/>
<text x="193.0" y="1294.9" font-size="21.5" fill="#4a4a4a" text-anchor="end">-1</text>
<line x1="208.6" y1="1358.4" x2="214.6" y2="1358.4" stroke="#868686" stroke-width="1.3"/>
<text x="193.0" y="1366.1" font-size="21.5" fill="#4a4a4a" text-anchor="end">-1.5</text>
<line x1="208.6" y1="1429.7" x2="214.6" y2="1429.7" stroke="#868686" stroke-width="1.3"/>
<text x="193.0" y="1437.4" font-size="21.5" fill="#4a4a4a" text-anchor="end">-2</text>
<line x1="208.6" y1="1500.9" x2="214.6" y2="1500.9" stroke="#868686" stroke-width="1.3"/>
<text x="193.0" y="1508.6" font-size="21.5" fill="#4a4a4a" text-anchor="end">-2.5</text>
<line x1="214.6" y1="1500.9" x2="214.6" y2="1506.9" stroke="#868686" stroke-width="1.3"/>
<line x1="310.1" y1="1500.9" x2="310.1" y2="1506.9" stroke="#868686" stroke-width="1.3"/>
<line x1="405.6" y1="1500.9" x2="405.6" y2="1506.9" stroke="#868686" stroke-width="1.3"/>
<line x1="501.0" y1="1500.9" x2="501.0" y2="1506.9" stroke="#868686" stroke-width="1.3"/>
<line x1="596.5" y1="1500.9" x2="596.5" y2="1506.9" stroke="#868686" stroke-width="1.3"/>
<line x1="692.0" y1="1500.9" x2="692.0" y2="1506.9" stroke="#868686" stroke-width="1.3"/>
<line x1="787.5" y1="1500.9" x2="787.5" y2="1506.9" stroke="#868686" stroke-width="1.3"/>
<text x="262.3" y="1538.1" font-size="21.5" fill="#4a4a4a" text-anchor="middle">0 mo</text>
<text x="357.8" y="1538.1" font-size="21.5" fill="#4a4a4a" text-anchor="middle">1 mo</text>
<text x="453.3" y="1538.1" font-size="21.5" fill="#4a4a4a" text-anchor="middle">3 mo</text>
<text x="548.8" y="1538.1" font-size="21.5" fill="#4a4a4a" text-anchor="middle">6 mo</text>
<text x="644.3" y="1538.1" font-size="21.5" fill="#4a4a4a" text-anchor="middle">9 mo</text>
<text x="739.8" y="1538.1" font-size="21.5" fill="#4a4a4a" text-anchor="middle">12 mo</text>
<text x="85.5" y="1183.9" font-size="23" fill="#262626" text-anchor="middle">log2</text>
<text x="85.5" y="1212.1" font-size="23" fill="#262626" text-anchor="middle">ratio</text>
<text x="85.5" y="1240.3" font-size="23" fill="#262626" text-anchor="middle">(<tspan font-style="italic">n</tspan></text>
<text x="85.5" y="1268.5" font-size="23" fill="#262626" text-anchor="middle">mo/0</text>
<text x="85.5" y="1296.7" font-size="23" fill="#262626" text-anchor="middle">mo)</text>
<path d="M262.3,1144.7 L357.8,1187.5 L453.3,1211.7 L548.8,1247.3 L644.3,1240.2 L739.8,1238.8" stroke="#3f6fb5" stroke-width="3.5" fill="none" stroke-linejoin="round"/>
<path d="M262.3,1139.5 L267.5,1144.7 L262.3,1149.9 L257.1,1144.7 Z" fill="#3f6fb5"/>
<path d="M357.8,1182.3 L363.0,1187.5 L357.8,1192.7 L352.6,1187.5 Z" fill="#3f6fb5"/>
<path d="M453.3,1206.5 L458.5,1211.7 L453.3,1216.9 L448.1,1211.7 Z" fill="#3f6fb5"/>
<path d="M548.8,1242.1 L554.0,1247.3 L548.8,1252.5 L543.6,1247.3 Z" fill="#3f6fb5"/>
<path d="M644.3,1235.0 L649.5,1240.2 L644.3,1245.4 L639.1,1240.2 Z" fill="#3f6fb5"/>
<path d="M739.8,1233.6 L745.0,1238.8 L739.8,1244.0 L734.6,1238.8 Z" fill="#3f6fb5"/>
<path d="M262.3,1144.7 L357.8,1154.7 L453.3,1178.9 L548.8,1201.7 L644.3,1231.6 L739.8,1235.9" stroke="#b83f3e" stroke-width="3.5" fill="none" stroke-linejoin="round"/>
<rect x="256.7" y="1139.1" width="11.2" height="11.2" fill="#b83f3e"/>
<rect x="352.2" y="1149.1" width="11.2" height="11.2" fill="#b83f3e"/>
<rect x="447.7" y="1173.3" width="11.2" height="11.2" fill="#b83f3e"/>
<rect x="543.2" y="1196.1" width="11.2" height="11.2" fill="#b83f3e"/>
<rect x="638.7" y="1226.0" width="11.2" height="11.2" fill="#b83f3e"/>
<rect x="734.2" y="1230.3" width="11.2" height="11.2" fill="#b83f3e"/>
<path d="M262.3,1144.7 L357.8,1201.7 L453.3,1261.6 L548.8,1307.1 L644.3,1271.5 L739.8,1187.5" stroke="#8db24c" stroke-width="3.5" fill="none" stroke-linejoin="round"/>
<path d="M262.3,1138.5 L268.5,1149.7 L256.1,1149.7 Z" fill="#8db24c"/>
<path d="M357.8,1195.5 L364.0,1206.7 L351.6,1206.7 Z" fill="#8db24c"/>
<path d="M453.3,1255.4 L459.5,1266.5 L447.1,1266.5 Z" fill="#8db24c"/>
<path d="M548.8,1300.9 L555.0,1312.1 L542.6,1312.1 Z" fill="#8db24c"/>
<path d="M644.3,1265.3 L650.5,1276.5 L638.1,1276.5 Z" fill="#8db24c"/>
<path d="M739.8,1181.3 L746.0,1192.4 L733.6,1192.4 Z" fill="#8db24c"/>
<path d="M262.3,1144.7 L357.8,1223.1 L453.3,1241.6 L548.8,1335.6 L644.3,1241.6 L739.8,1188.9" stroke="#6f529c" stroke-width="3.5" fill="none" stroke-linejoin="round"/>
<path d="M257.3,1139.7 L267.3,1149.7 M257.3,1149.7 L267.3,1139.7" stroke="#6f529c" stroke-width="1.6" fill="none"/>
<path d="M352.8,1218.1 L362.8,1228.1 M352.8,1228.1 L362.8,1218.1" stroke="#6f529c" stroke-width="1.6" fill="none"/>
<path d="M448.3,1236.6 L458.3,1246.6 M448.3,1246.6 L458.3,1236.6" stroke="#6f529c" stroke-width="1.6" fill="none"/>
<path d="M543.8,1330.6 L553.8,1340.6 M543.8,1340.6 L553.8,1330.6" stroke="#6f529c" stroke-width="1.6" fill="none"/>
<path d="M639.3,1236.6 L649.3,1246.6 M639.3,1246.6 L649.3,1236.6" stroke="#6f529c" stroke-width="1.6" fill="none"/>
<path d="M734.8,1183.9 L744.8,1193.9 M734.8,1193.9 L744.8,1183.9" stroke="#6f529c" stroke-width="1.6" fill="none"/>
<path d="M262.3,1144.7 L357.8,1307.1 L453.3,1414.0 L548.8,1485.2 L644.3,1453.9 L739.8,1471.0" stroke="#37a3bd" stroke-width="3.5" fill="none" stroke-linejoin="round"/>
<path d="M257.3,1139.7 L267.3,1149.7 M257.3,1149.7 L267.3,1139.7 M262.3,1138.7 L262.3,1150.7" stroke="#37a3bd" stroke-width="1.6" fill="none"/>
<path d="M352.8,1302.1 L362.8,1312.1 M352.8,1312.1 L362.8,1302.1 M357.8,1301.1 L357.8,1313.1" stroke="#37a3bd" stroke-width="1.6" fill="none"/>
<path d="M448.3,1409.0 L458.3,1419.0 M448.3,1419.0 L458.3,1409.0 M453.3,1408.0 L453.3,1420.0" stroke="#37a3bd" stroke-width="1.6" fill="none"/>
<path d="M543.8,1480.2 L553.8,1490.2 M543.8,1490.2 L553.8,1480.2 M548.8,1479.2 L548.8,1491.2" stroke="#37a3bd" stroke-width="1.6" fill="none"/>
<path d="M639.3,1448.9 L649.3,1458.9 M639.3,1458.9 L649.3,1448.9 M644.3,1447.9 L644.3,1459.9" stroke="#37a3bd" stroke-width="1.6" fill="none"/>
<path d="M734.8,1466.0 L744.8,1476.0 M734.8,1476.0 L744.8,1466.0 M739.8,1465.0 L739.8,1477.0" stroke="#37a3bd" stroke-width="1.6" fill="none"/>
<path d="M262.3,1144.7 L357.8,1157.0 L453.3,1191.7 L548.8,1227.4 L644.3,1238.8 L739.8,1241.6" stroke="#ef8a32" stroke-width="3.5" fill="none" stroke-linejoin="round"/>
<circle cx="262.3" cy="1144.7" r="5.6" fill="#ef8a32"/>
<circle cx="357.8" cy="1157.0" r="5.6" fill="#ef8a32"/>
<circle cx="453.3" cy="1191.7" r="5.6" fill="#ef8a32"/>
<circle cx="548.8" cy="1227.4" r="5.6" fill="#ef8a32"/>
<circle cx="644.3" cy="1238.8" r="5.6" fill="#ef8a32"/>
<circle cx="739.8" cy="1241.6" r="5.6" fill="#ef8a32"/>
<line x1="823.3" y1="1196.4" x2="871.8" y2="1196.4" stroke="#3f6fb5" stroke-width="3.5"/>
<path d="M847.5,1191.2 L852.8,1196.4 L847.5,1201.6 L842.3,1196.4 Z" fill="#3f6fb5"/>
<text x="876.4" y="1203.4" font-size="19" fill="#4a4a4a" text-anchor="start">C1RL</text>
<line x1="823.3" y1="1239.3" x2="871.8" y2="1239.3" stroke="#b83f3e" stroke-width="3.5"/>
<rect x="841.9" y="1233.7" width="11.2" height="11.2" fill="#b83f3e"/>
<text x="876.4" y="1246.3" font-size="19" fill="#4a4a4a" text-anchor="start">C2</text>
<line x1="823.3" y1="1282.2" x2="871.8" y2="1282.2" stroke="#8db24c" stroke-width="3.5"/>
<path d="M847.5,1276.0 L853.8,1287.2 L841.3,1287.2 Z" fill="#8db24c"/>
<text x="876.4" y="1289.2" font-size="19" fill="#4a4a4a" text-anchor="start">C4A</text>
<line x1="823.3" y1="1325.1" x2="871.8" y2="1325.1" stroke="#6f529c" stroke-width="3.5"/>
<path d="M842.5,1320.1 L852.5,1330.1 M842.5,1330.1 L852.5,1320.1" stroke="#6f529c" stroke-width="1.6" fill="none"/>
<text x="876.4" y="1332.1" font-size="19" fill="#4a4a4a" text-anchor="start">C4B</text>
<line x1="823.3" y1="1368.0" x2="871.8" y2="1368.0" stroke="#37a3bd" stroke-width="3.5"/>
<path d="M842.5,1363.0 L852.5,1373.0 M842.5,1373.0 L852.5,1363.0 M847.5,1362.0 L847.5,1374.0" stroke="#37a3bd" stroke-width="1.6" fill="none"/>
<text x="876.4" y="1375.0" font-size="19" fill="#4a4a4a" text-anchor="start">C4BPA</text>
<line x1="823.3" y1="1410.9" x2="871.8" y2="1410.9" stroke="#ef8a32" stroke-width="3.5"/>
<circle cx="847.5" cy="1410.9" r="5.6" fill="#ef8a32"/>
<text x="876.4" y="1417.9" font-size="19" fill="#4a4a4a" text-anchor="start">SERPING1</text>
<text x="58.42" y="1603.0" font-size="43" fill="#000" textLength="23.26" lengthAdjust="spacingAndGlyphs">c</text>
<line x1="223.0" y1="1575.8" x2="223.0" y2="1994.6" stroke="#868686" stroke-width="1.3"/>
<line x1="223.0" y1="1994.6" x2="840.2" y2="1994.6" stroke="#868686" stroke-width="1.3"/>
<line x1="217.0" y1="1575.8" x2="223.0" y2="1575.8" stroke="#868686" stroke-width="1.3"/>
<text x="201.0" y="1583.5" font-size="21.5" fill="#4a4a4a" text-anchor="end">0.5</text>
<line x1="217.0" y1="1645.6" x2="223.0" y2="1645.6" stroke="#868686" stroke-width="1.3"/>
<text x="201.0" y="1653.3" font-size="21.5" fill="#4a4a4a" text-anchor="end">0</text>
<line x1="217.0" y1="1715.4" x2="223.0" y2="1715.4" stroke="#868686" stroke-width="1.3"/>
<text x="201.0" y="1723.1" font-size="21.5" fill="#4a4a4a" text-anchor="end">-0.5</text>
<line x1="217.0" y1="1785.2" x2="223.0" y2="1785.2" stroke="#868686" stroke-width="1.3"/>
<text x="201.0" y="1792.9" font-size="21.5" fill="#4a4a4a" text-anchor="end">-1</text>
<line x1="217.0" y1="1855.0" x2="223.0" y2="1855.0" stroke="#868686" stroke-width="1.3"/>
<text x="201.0" y="1862.7" font-size="21.5" fill="#4a4a4a" text-anchor="end">-1.5</text>
<line x1="217.0" y1="1924.8" x2="223.0" y2="1924.8" stroke="#868686" stroke-width="1.3"/>
<text x="201.0" y="1932.5" font-size="21.5" fill="#4a4a4a" text-anchor="end">-2</text>
<line x1="217.0" y1="1994.6" x2="223.0" y2="1994.6" stroke="#868686" stroke-width="1.3"/>
<text x="201.0" y="2002.3" font-size="21.5" fill="#4a4a4a" text-anchor="end">-2.5</text>
<line x1="223.0" y1="1994.6" x2="223.0" y2="2000.6" stroke="#868686" stroke-width="1.3"/>
<line x1="325.9" y1="1994.6" x2="325.9" y2="2000.6" stroke="#868686" stroke-width="1.3"/>
<line x1="428.7" y1="1994.6" x2="428.7" y2="2000.6" stroke="#868686" stroke-width="1.3"/>
<line x1="531.6" y1="1994.6" x2="531.6" y2="2000.6" stroke="#868686" stroke-width="1.3"/>
<line x1="634.5" y1="1994.6" x2="634.5" y2="2000.6" stroke="#868686" stroke-width="1.3"/>
<line x1="737.3" y1="1994.6" x2="737.3" y2="2000.6" stroke="#868686" stroke-width="1.3"/>
<line x1="840.2" y1="1994.6" x2="840.2" y2="2000.6" stroke="#868686" stroke-width="1.3"/>
<text x="274.4" y="2032.6" font-size="21.5" fill="#4a4a4a" text-anchor="middle">0 mo</text>
<text x="377.3" y="2032.6" font-size="21.5" fill="#4a4a4a" text-anchor="middle">1 mo</text>
<text x="480.2" y="2032.6" font-size="21.5" fill="#4a4a4a" text-anchor="middle">3 mo</text>
<text x="583.0" y="2032.6" font-size="21.5" fill="#4a4a4a" text-anchor="middle">6 mo</text>
<text x="685.9" y="2032.6" font-size="21.5" fill="#4a4a4a" text-anchor="middle">9 mo</text>
<text x="788.8" y="2032.6" font-size="21.5" fill="#4a4a4a" text-anchor="middle">12 mo</text>
<text x="95.0" y="1660.4" font-size="23" fill="#262626" text-anchor="middle">log2</text>
<text x="95.0" y="1688.0" font-size="23" fill="#262626" text-anchor="middle">ratio</text>
<text x="95.0" y="1715.6" font-size="23" fill="#262626" text-anchor="middle">(<tspan font-style="italic">n</tspan></text>
<text x="95.0" y="1743.2" font-size="23" fill="#262626" text-anchor="middle">mo/0</text>
<text x="95.0" y="1770.8" font-size="23" fill="#262626" text-anchor="middle">mo)</text>
<path d="M274.4,1645.6 L377.3,1686.1 L480.2,1704.2 L583.0,1747.5 L685.9,1734.9 L788.8,1725.2" stroke="#3f6fb5" stroke-width="3.5" fill="none" stroke-linejoin="round"/>
<path d="M274.4,1640.4 L279.6,1645.6 L274.4,1650.8 L269.2,1645.6 Z" fill="#3f6fb5"/>
<path d="M377.3,1680.9 L382.5,1686.1 L377.3,1691.3 L372.1,1686.1 Z" fill="#3f6fb5"/>
<path d="M480.2,1699.0 L485.4,1704.2 L480.2,1709.4 L475.0,1704.2 Z" fill="#3f6fb5"/>
<path d="M583.0,1742.3 L588.2,1747.5 L583.0,1752.7 L577.8,1747.5 Z" fill="#3f6fb5"/>
<path d="M685.9,1729.7 L691.1,1734.9 L685.9,1740.1 L680.7,1734.9 Z" fill="#3f6fb5"/>
<path d="M788.8,1720.0 L794.0,1725.2 L788.8,1730.4 L783.6,1725.2 Z" fill="#3f6fb5"/>
<path d="M274.4,1645.6 L377.3,1628.8 L480.2,1663.7 L583.0,1690.3 L685.9,1718.2 L788.8,1719.6" stroke="#b83f3e" stroke-width="3.5" fill="none" stroke-linejoin="round"/>
<rect x="268.8" y="1640.0" width="11.2" height="11.2" fill="#b83f3e"/>
<rect x="371.7" y="1623.2" width="11.2" height="11.2" fill="#b83f3e"/>
<rect x="474.6" y="1658.1" width="11.2" height="11.2" fill="#b83f3e"/>
<rect x="577.4" y="1684.7" width="11.2" height="11.2" fill="#b83f3e"/>
<rect x="680.3" y="1712.6" width="11.2" height="11.2" fill="#b83f3e"/>
<rect x="783.2" y="1714.0" width="11.2" height="11.2" fill="#b83f3e"/>
<path d="M274.4,1645.6 L377.3,1676.3 L480.2,1709.8 L583.0,1750.3 L685.9,1774.0 L788.8,1758.7" stroke="#8db24c" stroke-width="3.5" fill="none" stroke-linejoin="round"/>
<path d="M274.4,1639.4 L280.6,1650.6 L268.2,1650.6 Z" fill="#8db24c"/>
<path d="M377.3,1670.1 L383.5,1681.3 L371.1,1681.3 Z" fill="#8db24c"/>
<path d="M480.2,1703.6 L486.4,1714.8 L474.0,1714.8 Z" fill="#8db24c"/>
<path d="M583.0,1744.1 L589.2,1755.3 L576.8,1755.3 Z" fill="#8db24c"/>
<path d="M685.9,1767.8 L692.1,1779.0 L679.7,1779.0 Z" fill="#8db24c"/>
<path d="M788.8,1752.5 L795.0,1763.6 L782.6,1763.6 Z" fill="#8db24c"/>
<line x1="874.8" y1="1759.1" x2="922.2" y2="1759.1" stroke="#3f6fb5" stroke-width="3.5"/>
<path d="M898.5,1753.9 L903.7,1759.1 L898.5,1764.3 L893.3,1759.1 Z" fill="#3f6fb5"/>
<text x="926.4" y="1766.1" font-size="19" fill="#4a4a4a" text-anchor="start">CFB</text>
<line x1="874.8" y1="1801.8" x2="922.2" y2="1801.8" stroke="#b83f3e" stroke-width="3.5"/>
<rect x="892.9" y="1796.2" width="11.2" height="11.2" fill="#b83f3e"/>
<text x="926.4" y="1808.8" font-size="19" fill="#4a4a4a" text-anchor="start">CFH</text>
<line x1="874.8" y1="1844.5" x2="922.2" y2="1844.5" stroke="#8db24c" stroke-width="3.5"/>
<path d="M898.5,1838.3 L904.7,1849.5 L892.3,1849.5 Z" fill="#8db24c"/>
<text x="926.4" y="1851.5" font-size="19" fill="#4a4a4a" text-anchor="start">CFI</text>
<text x="58.48" y="2232.2" font-size="45" fill="#000" textLength="25.09" lengthAdjust="spacingAndGlyphs">d</text>
<line x1="223.0" y1="2205.5" x2="223.0" y2="2624.6" stroke="#868686" stroke-width="1.3"/>
<line x1="223.0" y1="2624.6" x2="827.5" y2="2624.6" stroke="#868686" stroke-width="1.3"/>
<line x1="217.0" y1="2205.5" x2="223.0" y2="2205.5" stroke="#868686" stroke-width="1.3"/>
<text x="201.0" y="2213.2" font-size="21.5" fill="#4a4a4a" text-anchor="end">0.5</text>
<line x1="217.0" y1="2275.3" x2="223.0" y2="2275.3" stroke="#868686" stroke-width="1.3"/>
<text x="201.0" y="2283.0" font-size="21.5" fill="#4a4a4a" text-anchor="end">0</text>
<line x1="217.0" y1="2345.2" x2="223.0" y2="2345.2" stroke="#868686" stroke-width="1.3"/>
<text x="201.0" y="2352.9" font-size="21.5" fill="#4a4a4a" text-anchor="end">-0.5</text>
<line x1="217.0" y1="2415.0" x2="223.0" y2="2415.0" stroke="#868686" stroke-width="1.3"/>
<text x="201.0" y="2422.7" font-size="21.5" fill="#4a4a4a" text-anchor="end">-1</text>
<line x1="217.0" y1="2484.9" x2="223.0" y2="2484.9" stroke="#868686" stroke-width="1.3"/>
<text x="201.0" y="2492.6" font-size="21.5" fill="#4a4a4a" text-anchor="end">-1.5</text>
<line x1="217.0" y1="2554.8" x2="223.0" y2="2554.8" stroke="#868686" stroke-width="1.3"/>
<text x="201.0" y="2562.4" font-size="21.5" fill="#4a4a4a" text-anchor="end">-2</text>
<line x1="217.0" y1="2624.6" x2="223.0" y2="2624.6" stroke="#868686" stroke-width="1.3"/>
<text x="201.0" y="2632.3" font-size="21.5" fill="#4a4a4a" text-anchor="end">-2.5</text>
<line x1="223.0" y1="2624.6" x2="223.0" y2="2630.6" stroke="#868686" stroke-width="1.3"/>
<line x1="323.8" y1="2624.6" x2="323.8" y2="2630.6" stroke="#868686" stroke-width="1.3"/>
<line x1="424.5" y1="2624.6" x2="424.5" y2="2630.6" stroke="#868686" stroke-width="1.3"/>
<line x1="525.2" y1="2624.6" x2="525.2" y2="2630.6" stroke="#868686" stroke-width="1.3"/>
<line x1="626.0" y1="2624.6" x2="626.0" y2="2630.6" stroke="#868686" stroke-width="1.3"/>
<line x1="726.8" y1="2624.6" x2="726.8" y2="2630.6" stroke="#868686" stroke-width="1.3"/>
<line x1="827.5" y1="2624.6" x2="827.5" y2="2630.6" stroke="#868686" stroke-width="1.3"/>
<text x="273.4" y="2662.0" font-size="21.5" fill="#4a4a4a" text-anchor="middle">0 mo</text>
<text x="374.1" y="2662.0" font-size="21.5" fill="#4a4a4a" text-anchor="middle">1 mo</text>
<text x="474.9" y="2662.0" font-size="21.5" fill="#4a4a4a" text-anchor="middle">3 mo</text>
<text x="575.6" y="2662.0" font-size="21.5" fill="#4a4a4a" text-anchor="middle">6 mo</text>
<text x="676.4" y="2662.0" font-size="21.5" fill="#4a4a4a" text-anchor="middle">9 mo</text>
<text x="777.1" y="2662.0" font-size="21.5" fill="#4a4a4a" text-anchor="middle">12 mo</text>
<text x="95.0" y="2287.7" font-size="23" fill="#262626" text-anchor="middle">log2</text>
<text x="95.0" y="2315.3" font-size="23" fill="#262626" text-anchor="middle">ratio</text>
<text x="95.0" y="2342.9" font-size="23" fill="#262626" text-anchor="middle">(<tspan font-style="italic">n</tspan></text>
<text x="95.0" y="2370.5" font-size="23" fill="#262626" text-anchor="middle">mo/0</text>
<text x="95.0" y="2398.1" font-size="23" fill="#262626" text-anchor="middle">mo)</text>
<path d="M273.4,2275.3 L374.1,2287.4 L474.9,2301.2 L575.6,2289.3 L676.4,2283.0 L777.1,2280.5" stroke="#3f6fb5" stroke-width="3.5" fill="none" stroke-linejoin="round"/>
<path d="M273.4,2270.2 L278.6,2275.3 L273.4,2280.5 L268.2,2275.3 Z" fill="#3f6fb5"/>
<path d="M374.1,2282.2 L379.3,2287.4 L374.1,2292.6 L368.9,2287.4 Z" fill="#3f6fb5"/>
<path d="M474.9,2296.0 L480.1,2301.2 L474.9,2306.4 L469.7,2301.2 Z" fill="#3f6fb5"/>
<path d="M575.6,2284.1 L580.8,2289.3 L575.6,2294.5 L570.4,2289.3 Z" fill="#3f6fb5"/>
<path d="M676.4,2277.8 L681.6,2283.0 L676.4,2288.2 L671.2,2283.0 Z" fill="#3f6fb5"/>
<path d="M777.1,2275.3 L782.3,2280.5 L777.1,2285.7 L771.9,2280.5 Z" fill="#3f6fb5"/>
<path d="M273.4,2275.3 L374.1,2399.7 L474.9,2388.5 L575.6,2405.3 L676.4,2375.9 L777.1,2357.8" stroke="#8db24c" stroke-width="3.5" fill="none" stroke-linejoin="round"/>
<path d="M273.4,2269.2 L279.6,2280.3 L267.2,2280.3 Z" fill="#8db24c"/>
<path d="M374.1,2393.5 L380.3,2404.6 L367.9,2404.6 Z" fill="#8db24c"/>
<path d="M474.9,2382.3 L481.1,2393.5 L468.7,2393.5 Z" fill="#8db24c"/>
<path d="M575.6,2399.1 L581.8,2410.2 L569.4,2410.2 Z" fill="#8db24c"/>
<path d="M676.4,2369.7 L682.6,2380.9 L670.2,2380.9 Z" fill="#8db24c"/>
<path d="M777.1,2351.6 L783.3,2362.7 L770.9,2362.7 Z" fill="#8db24c"/>
<path d="M273.4,2275.3 L374.1,2301.2 L474.9,2309.6 L575.6,2336.8 L676.4,2360.6 L777.1,2349.4" stroke="#6f529c" stroke-width="3.5" fill="none" stroke-linejoin="round"/>
<path d="M268.4,2270.3 L278.4,2280.3 M268.4,2280.3 L278.4,2270.3" stroke="#6f529c" stroke-width="1.6" fill="none"/>
<path d="M369.1,2296.2 L379.1,2306.2 M369.1,2306.2 L379.1,2296.2" stroke="#6f529c" stroke-width="1.6" fill="none"/>
<path d="M469.9,2304.6 L479.9,2314.6 M469.9,2314.6 L479.9,2304.6" stroke="#6f529c" stroke-width="1.6" fill="none"/>
<path d="M570.6,2331.8 L580.6,2341.8 M570.6,2341.8 L580.6,2331.8" stroke="#6f529c" stroke-width="1.6" fill="none"/>
<path d="M671.4,2355.6 L681.4,2365.6 M671.4,2365.6 L681.4,2355.6" stroke="#6f529c" stroke-width="1.6" fill="none"/>
<path d="M772.1,2344.4 L782.1,2354.4 M772.1,2354.4 L782.1,2344.4" stroke="#6f529c" stroke-width="1.6" fill="none"/>
<path d="M273.4,2275.3 L374.1,2274.7 L474.9,2269.8 L575.6,2275.3 L676.4,2289.3 L777.1,2297.7" stroke="#37a3bd" stroke-width="3.5" fill="none" stroke-linejoin="round"/>
<path d="M268.4,2270.3 L278.4,2280.3 M268.4,2280.3 L278.4,2270.3 M273.4,2269.3 L273.4,2281.3" stroke="#37a3bd" stroke-width="1.6" fill="none"/>
<path d="M369.1,2269.7 L379.1,2279.7 M369.1,2279.7 L379.1,2269.7 M374.1,2268.7 L374.1,2280.7" stroke="#37a3bd" stroke-width="1.6" fill="none"/>
<path d="M469.9,2264.8 L479.9,2274.8 M469.9,2274.8 L479.9,2264.8 M474.9,2263.8 L474.9,2275.8" stroke="#37a3bd" stroke-width="1.6" fill="none"/>
<path d="M570.6,2270.3 L580.6,2280.3 M570.6,2280.3 L580.6,2270.3 M575.6,2269.3 L575.6,2281.3" stroke="#37a3bd" stroke-width="1.6" fill="none"/>
<path d="M671.4,2284.3 L681.4,2294.3 M671.4,2294.3 L681.4,2284.3 M676.4,2283.3 L676.4,2295.3" stroke="#37a3bd" stroke-width="1.6" fill="none"/>
<path d="M772.1,2292.7 L782.1,2302.7 M772.1,2302.7 L782.1,2292.7 M777.1,2291.7 L777.1,2303.7" stroke="#37a3bd" stroke-width="1.6" fill="none"/>
<path d="M273.4,2275.3 L374.1,2276.7 L474.9,2267.0 L575.6,2246.0 L676.4,2236.2 L777.1,2234.8" stroke="#ef8a32" stroke-width="3.5" fill="none" stroke-linejoin="round"/>
<circle cx="273.4" cy="2275.3" r="5.6" fill="#ef8a32"/>
<circle cx="374.1" cy="2276.7" r="5.6" fill="#ef8a32"/>
<circle cx="474.9" cy="2267.0" r="5.6" fill="#ef8a32"/>
<circle cx="575.6" cy="2246.0" r="5.6" fill="#ef8a32"/>
<circle cx="676.4" cy="2236.2" r="5.6" fill="#ef8a32"/>
<circle cx="777.1" cy="2234.8" r="5.6" fill="#ef8a32"/>
<path d="M273.4,2275.3 L374.1,2359.2 L474.9,2415.0 L575.6,2438.8 L676.4,2470.9 L777.1,2457.0" stroke="#8eaad6" stroke-width="3.5" fill="none" stroke-linejoin="round"/>
<path d="M267.4,2275.3 L279.4,2275.3 M273.4,2269.3 L273.4,2281.3" stroke="#8eaad6" stroke-width="1.6" fill="none"/>
<path d="M368.1,2359.2 L380.1,2359.2 M374.1,2353.2 L374.1,2365.2" stroke="#8eaad6" stroke-width="1.6" fill="none"/>
<path d="M468.9,2415.0 L480.9,2415.0 M474.9,2409.0 L474.9,2421.0" stroke="#8eaad6" stroke-width="1.6" fill="none"/>
<path d="M569.6,2438.8 L581.6,2438.8 M575.6,2432.8 L575.6,2444.8" stroke="#8eaad6" stroke-width="1.6" fill="none"/>
<path d="M670.4,2470.9 L682.4,2470.9 M676.4,2464.9 L676.4,2476.9" stroke="#8eaad6" stroke-width="1.6" fill="none"/>
<path d="M771.1,2457.0 L783.1,2457.0 M777.1,2451.0 L777.1,2463.0" stroke="#8eaad6" stroke-width="1.6" fill="none"/>
<line x1="863.2" y1="2326.7" x2="910.3" y2="2326.7" stroke="#3f6fb5" stroke-width="3.5"/>
<path d="M886.8,2321.5 L892.0,2326.7 L886.8,2331.9 L881.5,2326.7 Z" fill="#3f6fb5"/>
<text x="913.0" y="2333.7" font-size="19" fill="#4a4a4a" text-anchor="start">CD59</text>
<line x1="863.2" y1="2368.6" x2="910.3" y2="2368.6" stroke="#8db24c" stroke-width="3.5"/>
<path d="M886.8,2362.4 L893.0,2373.6 L880.5,2373.6 Z" fill="#8db24c"/>
<text x="913.0" y="2375.6" font-size="19" fill="#4a4a4a" text-anchor="start">C3</text>
<line x1="863.2" y1="2410.5" x2="910.3" y2="2410.5" stroke="#6f529c" stroke-width="3.5"/>
<path d="M881.8,2405.5 L891.8,2415.5 M881.8,2415.5 L891.8,2405.5" stroke="#6f529c" stroke-width="1.6" fill="none"/>
<text x="913.0" y="2417.5" font-size="19" fill="#4a4a4a" text-anchor="start">C5</text>
<line x1="863.2" y1="2452.4" x2="910.3" y2="2452.4" stroke="#37a3bd" stroke-width="3.5"/>
<path d="M881.8,2447.4 L891.8,2457.4 M881.8,2457.4 L891.8,2447.4 M886.8,2446.4 L886.8,2458.4" stroke="#37a3bd" stroke-width="1.6" fill="none"/>
<text x="913.0" y="2459.4" font-size="19" fill="#4a4a4a" text-anchor="start">C6</text>
<line x1="863.2" y1="2494.3" x2="910.3" y2="2494.3" stroke="#ef8a32" stroke-width="3.5"/>
<circle cx="886.8" cy="2494.3" r="5.6" fill="#ef8a32"/>
<text x="913.0" y="2501.3" font-size="19" fill="#4a4a4a" text-anchor="start">C7</text>
<line x1="863.2" y1="2536.2" x2="910.3" y2="2536.2" stroke="#8eaad6" stroke-width="3.5"/>
<path d="M880.8,2536.2 L892.8,2536.2 M886.8,2530.2 L886.8,2542.2" stroke="#8eaad6" stroke-width="1.6" fill="none"/>
<text x="913.0" y="2543.2" font-size="19" fill="#4a4a4a" text-anchor="start">C9</text>
</svg>
</body></html>
